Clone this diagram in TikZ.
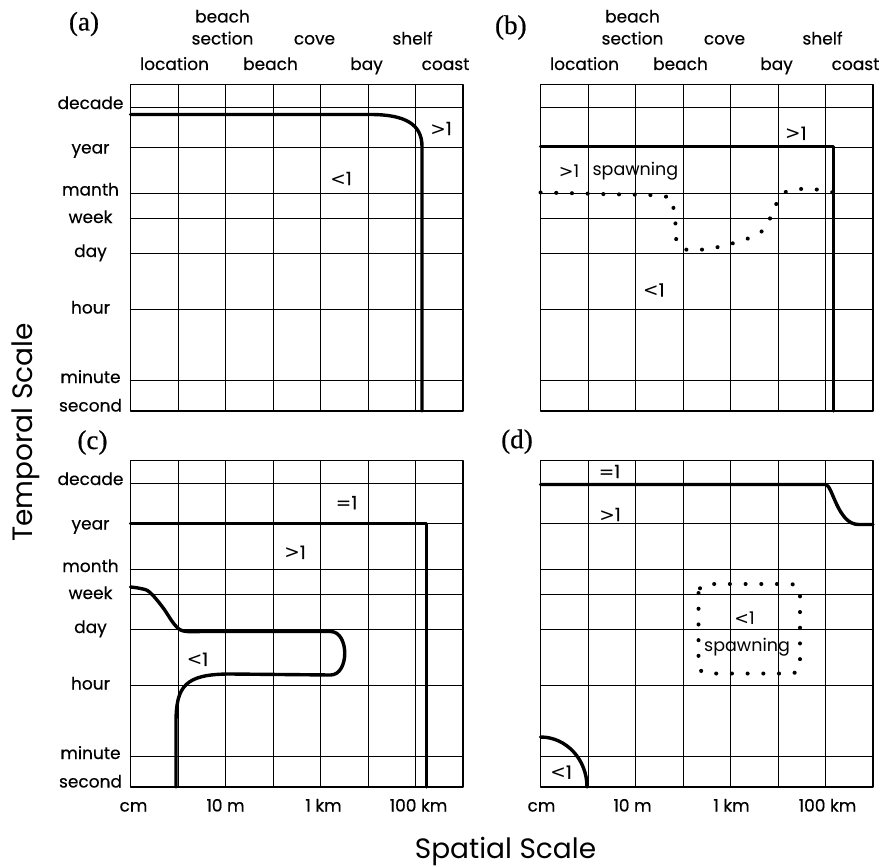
\documentclass[tikz,border=0pt]{standalone}
\usepackage{fontspec}
\setmainfont{Poppins}
\newfontfamily\labelfont{Poppins}[FakeBold=0.4]
\newfontfamily\relfont{DejaVu Sans}
\newfontfamily\panelfont{Liberation Serif}[FakeBold=0.6]
\usepackage{tikz}
\usetikzlibrary{positioning}
\newcommand{\lt}{{\relfont<}}
\newcommand{\gt}{{\relfont>}}
\newcommand{\eq}{{\relfont=}}
\tikzset{
    every picture/.style={line cap=round,line join=round},
    gridline/.style={draw=black,line width=0.9pt},
    panelframe/.style={draw=black,line width=1.4pt},
    regime/.style={draw=black,line width=3.4pt},
    spawndots/.style={draw=black,line width=4pt,line cap=round,
      dash pattern=on 0.1pt off 15.6pt},
    scalelabel/.style={font=\labelfont\fontsize{17}{17}\selectfont,inner sep=0pt,anchor=base},
    ratio/.style={font=\labelfont\fontsize{18.5}{18.5}\selectfont,inner sep=0pt},
    thinratio/.style={font=\fontsize{17.5}{17.5}\selectfont,inner sep=0pt},
    panellabel/.style={font=\panelfont\fontsize{27}{27}\selectfont,inner sep=0pt},
    axistitle/.style={font=\fontsize{28}{28}\selectfont,inner sep=0pt,anchor=base}
}

\begin{document}
\begin{tikzpicture}[x=1pt,y=-1pt]
  \useasboundingbox (0,0) rectangle (881,867);
  % the same grid in all four panels
  \foreach \p/\px/\py in {a/130.5/84.5,b/540.5/84.5,c/130.5/460.5,d/540.5/460.5} {
    \begin{scope}[shift={(\px,\py)}]
      \foreach \i in {1,...,6}
        \draw[gridline] (47.5*\i,0) -- (47.5*\i,326.5);
      \foreach \t in {22.5,62.5,108.5,133.5,168.5,225,296}
        \draw[gridline] (0,\t) -- (332.5,\t);
      \draw[panelframe] (0,0) rectangle (332.5,326.5);
    \end{scope}
  }

  % (a)
  \begin{scope}[shift={(130.5,84.5)}]
    \node[panellabel] (a-tag) at (-46.5,-60.5) {(a)};
    \foreach \n/\lab/\x/\b in {loc/location/44/-14.5,bsec/beach/92/-62,sec/section/92/-40,
        beach/beach/140/-14.5,cove/cove/184/-40,bay/bay/236/-14.5,shelf/shelf/282/-40,coast/coast/315/-14.5}
      \node[scalelabel] (a-\n) at (\x,\b) {\lab};
    \foreach \n/\lab/\b in {decade/decade/24.5,year/year/69,month/manth/111,week/week/138.5,
        day/day/172.5,hour/hour/229,minute/minute/298.5,second/second/327}
      \node[scalelabel] (a-\n) at (-40,\b) {\lab};
    \draw[regime] (0,30) -- (240,30) .. controls (275,30) and (291.5,40) .. (291.5,62) -- (291.5,326.5);
    \node[ratio] (a-more) at (310.5,44) {\gt1};
    \node[ratio] (a-less) at (210.5,94) {\lt1};
  \end{scope}

  % (b)
  \begin{scope}[shift={(540.5,84.5)}]
    \node[panellabel] (b-tag) at (-29.7,-57) {(b)};
    \foreach \n/\lab/\x/\b in {loc/location/44/-14.5,bsec/beach/92/-62,sec/section/92/-40,
        beach/beach/140/-14.5,cove/cove/184/-40,bay/bay/236/-14.5,shelf/shelf/282/-40,coast/coast/315/-14.5}
      \node[scalelabel] (b-\n) at (\x,\b) {\lab};
    \draw[regime] (0,62) -- (293,62) -- (293,326.5);
    \draw[spawndots] plot[smooth,tension=0.6] coordinates {(0,108) (60,109.5) (125,112) (133,124)
      (135,140) (136,156) (145,165) (170,164) (200,156.5) (220,148) (229,135) (235,121) (244,108)
      (260,104.5) (276,105) (293,108)};
    \node[ratio] (b-more) at (255.3,48.8) {\gt1};
    \node[thinratio] (b-spawnmore) at (28.5,87) {\gt1};
    \node[thinratio,right=13pt of b-spawnmore] (b-spawn) {spawning};
    \node[ratio] (b-less) at (113.3,205.5) {\lt1};
  \end{scope}

  % (c)
  \begin{scope}[shift={(130.5,460.5)}]
    \node[panellabel] (c-tag) at (-38,-18) {(c)};
    \foreach \n/\lab/\b in {decade/decade/24.5,year/year/69,month/month/111.5,week/week/138.5,
        day/day/172.5,hour/hour/229,minute/minute/298.5,second/second/327}
      \node[scalelabel] (c-\n) at (-40,\b) {\lab};
    \foreach \n/\lab/\x in {cm/cm/3,tenm/10 m/95,km/1 km/193,hkm/100 km/288}
      \node[scalelabel] (c-\n) at (\x,351) {\lab};
    \draw[regime] (0,63) -- (296,63) -- (296,326.5);
    \draw[regime] plot[smooth,tension=0.6] coordinates {(0,126.5) (10,128) (19,131.5) (32,146.5)
      (44,164) (53,170.5) (70,171)}
      -- (200,171) .. controls (219,171) and (219,214.5) .. (200,214.5)
      -- (100,213.5) .. controls (55,213.5) and (45.5,225) .. (45.5,262) -- (45.5,326.5);
    \node[ratio] (c-equal) at (216.2,42.2) {\eq1};
    \node[ratio] (c-more) at (164.5,91.8) {\gt1};
    \node[ratio] (c-less) at (67,198.8) {\lt1};
  \end{scope}

  % (d)
  \begin{scope}[shift={(540.5,460.5)}]
    \node[panellabel] (d-tag) at (-23.5,-18.8) {(d)};
    \foreach \n/\lab/\x in {cm/cm/1,tenm/10 m/92,km/1 km/191,hkm/100 km/287}
      \node[scalelabel] (d-\n) at (\x,351) {\lab};
    \draw[regime] (0,24) -- (285,24) .. controls (292,24) and (297,64) .. (318,64) -- (332.5,64);
    \draw[regime] (0,276.5) arc[start angle=-90,end angle=0,x radius=46.5,y radius=50];
    \draw[spawndots,rounded corners=9pt] (158,123.5) rectangle (259.5,213);
    \node[ratio] (d-equal) at (69,11) {\eq1};
    \node[ratio] (d-more) at (69.5,54) {\gt1};
    \node[thinratio] (d-spawnless) at (204,157.3) {\lt1};
    \node[thinratio] (d-spawn) at (206.5,187) {spawning};
    \node[ratio] (d-less) at (20.7,311.7) {\lt1};
  \end{scope}

  % axis titles
  \node[axistitle,rotate=90] (ttitle) at (32,432.5) {Temporal Scale};
  \node[axistitle] (stitle) at (505.5,858) {Spatial Scale};
\end{tikzpicture}
\end{document}
